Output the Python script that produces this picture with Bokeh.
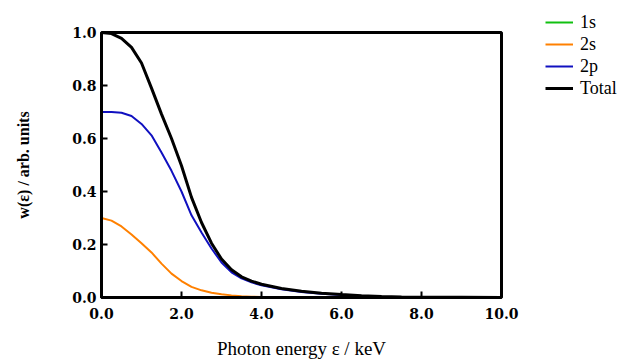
from bokeh.plotting import figure
from bokeh.models import Range1d, Legend, LegendItem, FixedTicker, NumeralTickFormatter
from bokeh.embed import file_html
from bokeh.resources import INLINE

# Photon energy (keV)
energy = [0.0, 0.25, 0.5, 0.75, 1.0, 1.25, 1.5, 1.75, 2.0, 2.25, 2.5, 2.75, 3.0,
          3.25, 3.5, 3.75, 4.0, 4.5, 5.0, 5.5, 6.0, 6.5, 7.0, 7.5, 8.0, 9.0, 10.0]
w_1s = [0.001] * len(energy)
w_2s = [0.300, 0.290, 0.268, 0.238, 0.205, 0.170, 0.128, 0.090, 0.062, 0.040, 0.027,
        0.018, 0.012, 0.008, 0.005, 0.003, 0.002, 0.001, 0.0005, 0.0, 0.0, 0.0, 0.0,
        0.0, 0.0, 0.0, 0.0]
w_2p = [0.700, 0.700, 0.697, 0.685, 0.655, 0.612, 0.547, 0.478, 0.400, 0.310, 0.245,
        0.185, 0.132, 0.095, 0.072, 0.057, 0.046, 0.031, 0.021, 0.014, 0.009, 0.005,
        0.003, 0.002, 0.001, 0.0005, 0.0]
w_total = [1.000, 0.996, 0.978, 0.944, 0.885, 0.790, 0.692, 0.600, 0.497, 0.378, 0.283,
           0.205, 0.145, 0.105, 0.078, 0.062, 0.050, 0.034, 0.024, 0.016, 0.011, 0.007,
           0.004, 0.002, 0.001, 0.0005, 0.0]
x_ticks = [0, 2, 4, 6, 8, 10]
y_ticks = [0.0, 0.2, 0.4, 0.6, 0.8, 1.0]

p = figure(frame_width=400, frame_height=265, output_backend="svg", toolbar_location=None,
           x_range=Range1d(0, 10), y_range=Range1d(0, 1.0),
           min_border_left=101, min_border_right=111, min_border_top=32, min_border_bottom=56)
p.background_fill_color = "white"
p.border_fill_color = "white"
p.grid.visible = False
p.outline_line_color = "black"
p.outline_line_width = 3
p.outline_line_alpha = 1.0

r1 = p.line(energy, w_1s, line_color="#10c010", line_width=2)
r2 = p.line(energy, w_2s, line_color="#ff8000", line_width=2)
r3 = p.line(energy, w_2p, line_color="#1010c0", line_width=2)
r4 = p.line(energy, w_total, line_color="black", line_width=3)

for ax in (p.xaxis[0], p.yaxis[0]):
    ax.axis_line_color = "black"
    ax.axis_line_width = 3
    ax.major_tick_in = 6
    ax.major_tick_out = 0
    ax.major_tick_line_width = 2
    ax.major_tick_line_color = "black"
    ax.minor_tick_line_color = None
    ax.major_label_text_font = "DejaVu Serif"
    ax.major_label_text_font_style = "bold"
    ax.major_label_text_font_size = "14px"
    ax.major_label_text_color = "black"
    ax.axis_label_text_font = "Liberation Serif"
    ax.axis_label_text_color = "black"
    ax.formatter = NumeralTickFormatter(format="0.0")

p.xaxis.ticker = FixedTicker(ticks=x_ticks)
p.yaxis.ticker = FixedTicker(ticks=y_ticks)
p.xaxis.major_label_standoff = 10
p.yaxis.major_label_standoff = 5

p.xaxis.axis_label = "Photon energy \u03b5 / keV"
p.xaxis.axis_label_text_font_style = "normal"
p.xaxis.axis_label_text_font_size = "19px"
p.xaxis.axis_label_standoff = 16

p.yaxis.axis_label = "w(\u03b5) / arb. units"
p.yaxis.axis_label_text_font_style = "bold"
p.yaxis.axis_label_text_font_size = "16px"
p.yaxis.axis_label_standoff = 37

legend = Legend(items=[LegendItem(label="1s", renderers=[r1]),
                       LegendItem(label="2s", renderers=[r2]),
                       LegendItem(label="2p", renderers=[r3]),
                       LegendItem(label="Total", renderers=[r4])],
                location=(44, 198), padding=0, margin=0, spacing=0,
                glyph_width=28, glyph_height=22, label_standoff=7,
                label_text_font="Liberation Serif", label_text_font_size="18px",
                label_text_color="black",
                border_line_color=None, background_fill_alpha=0)
p.add_layout(legend, "right")

open("out.html", "w").write(file_html(p, INLINE))
